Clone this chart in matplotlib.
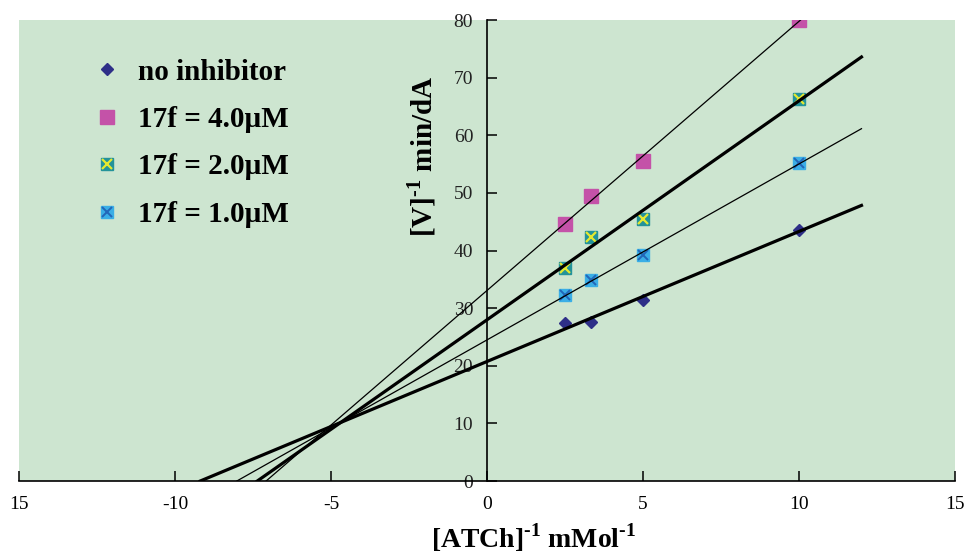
import numpy as np
import matplotlib
matplotlib.use("Agg")
import matplotlib.pyplot as plt
from matplotlib.legend_handler import HandlerTuple

plt.rcParams['font.family'] = 'Liberation Serif'
plt.rcParams['mathtext.fontset'] = 'custom'
plt.rcParams['mathtext.rm'] = 'Liberation Serif:bold'
plt.rcParams['mathtext.bf'] = 'Liberation Serif:bold'

# 1/[S] values and 1/V readings per series
inv_s = [2.5, 3.33, 5.0, 10.0]
v_none = [27.4, 27.6, 31.4, 43.6]
v_4uM = [44.6, 49.5, 55.5, 80.0]
v_2uM = [37.0, 42.3, 45.5, 66.3]
v_1uM = [32.3, 34.9, 39.2, 55.2]

labels = ['no inhibitor', '17f = 4.0\u00b5M', '17f = 2.0\u00b5M', '17f = 1.0\u00b5M']
x_ticks = [-15, -10, -5, 0, 5, 10, 15]
x_ticklabels = ['15', '-10', '-5', '0', '5', '10', '15']
y_ticks = [0, 10, 20, 30, 40, 50, 60, 70, 80]
x_line_end = 12

fig = plt.figure(figsize=(9.66, 5.55), dpi=100)
ax = fig.add_axes([0.0197, 0.1333, 0.969, 0.8306])
ax.set_facecolor('#cde5d0')

series = [v_none, v_4uM, v_2uM, v_1uM]
widths = [2.3, 0.9, 2.3, 0.9]

# Lineweaver-Burk trend lines, from x-intercept to the right end
for y, lw in zip(series, widths):
    m, b = np.polyfit(inv_s, y, 1)
    xs = np.array([-b / m, x_line_end])
    ax.plot(xs, m * xs + b, color='black', lw=lw, zorder=4)

h_none = ax.plot(inv_s, v_none, 'D', ms=6.5, color='#2e2f88', ls='none', zorder=3)[0]
h_4 = ax.plot(inv_s, v_4uM, 's', ms=9.5, color='#c452a8', ls='none', zorder=3)[0]
h_2a = ax.plot(inv_s, v_2uM, 's', ms=8, color='#23939a', ls='none', zorder=3)[0]
h_2b = ax.plot(inv_s, v_2uM, 'x', ms=6.5, mew=1.6, color='#e4e830', ls='none', zorder=3)[0]
h_1a = ax.plot(inv_s, v_1uM, 's', ms=8, color='#3aaee6', ls='none', zorder=3)[0]
h_1b = ax.plot(inv_s, v_1uM, 'x', ms=6.5, mew=1.4, color='#2266b8', ls='none', zorder=3)[0]

ax.set_xlim(-15, 15)
ax.set_ylim(0, 80)
ax.spines['left'].set_position(('data', 0))
ax.spines['bottom'].set_position(('data', 0))
ax.spines['top'].set_visible(False)
ax.spines['right'].set_visible(False)
for s in ['left', 'bottom']:
    ax.spines[s].set_linewidth(1.2)

ax.set_xticks(x_ticks)
ax.set_xticklabels(x_ticklabels)
ax.set_yticks(y_ticks)
ax.tick_params(axis='x', direction='in', length=7, width=1.1, pad=11, labelsize=14)
ax.tick_params(axis='y', direction='in', length=7, width=1.1, pad=10, labelsize=14,
               labelcolor='#222222')

ax.set_xlabel(r'[ATCh]$^{\text{-1}}$ mMol$^{\text{-1}}$', fontsize=20, fontweight='bold')
ax.xaxis.set_label_coords(0.55, -0.088)
ax.set_ylabel(r'[V]$^{\text{-1}}$ min/dA', fontsize=21, fontweight='bold')
ax.yaxis.set_label_coords(0.448, 0.705)

leg = ax.legend([h_none, h_4, (h_2a, h_2b), (h_1a, h_1b)], labels,
                handler_map={tuple: HandlerTuple(ndivide=1, pad=0)},
                loc='upper left', bbox_to_anchor=(0.066, 0.948), frameon=False,
                prop={'family': 'Liberation Serif', 'weight': 'bold', 'size': 21},
                handlelength=0.8, handletextpad=0.67, labelspacing=0.7, borderpad=0)

fig.savefig('out.png', dpi=100)
